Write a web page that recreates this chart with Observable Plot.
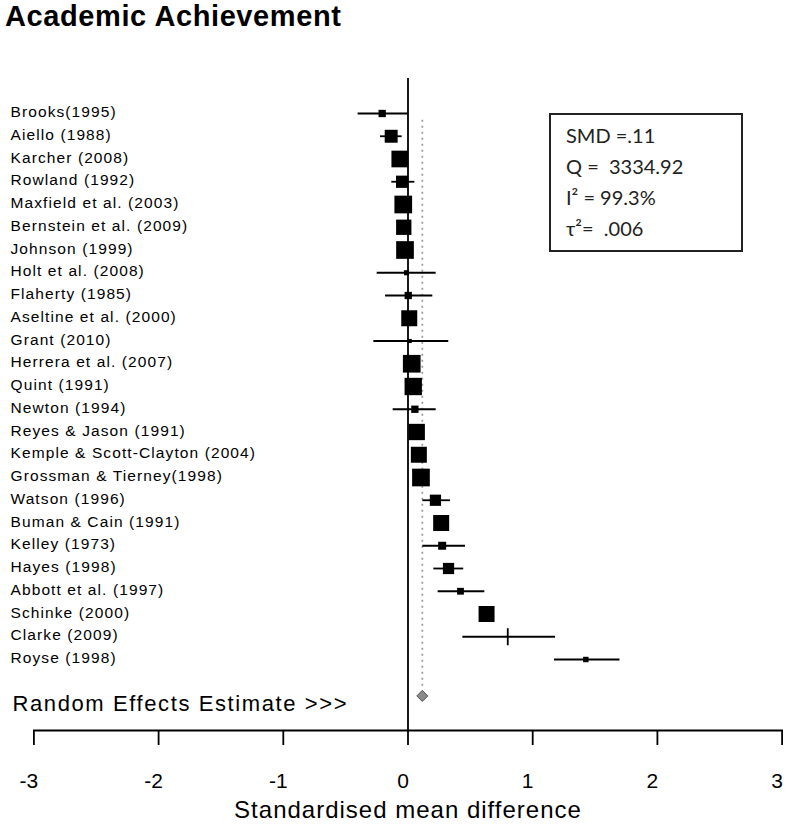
<!DOCTYPE html>
<html>
<head>
<meta charset="utf-8">
<script src="https://cdn.jsdelivr.net/npm/d3@7"></script>
<script src="https://cdn.jsdelivr.net/npm/@observablehq/plot@0.6"></script>
<style>
  html, body { margin: 0; padding: 0; background: #fff; }
  #wrap { position: relative; width: 791px; height: 825px; overflow: hidden; font-family: "Liberation Sans", Arial, sans-serif; }
  #title { position: absolute; left: 5px; top: 2px; font-size: 29px; line-height: 29px; font-weight: bold; color: #000; white-space: nowrap; letter-spacing: 0.6px; }
  #chart { position: absolute; left: 0; top: 34px; }
  #stats { position: absolute; left: 549px; top: 113px; width: 194px; height: 139px; box-sizing: border-box;
           border: 2px solid #222; padding: 5px 0 0 15px; font-family: Lato, "Open Sans", sans-serif; font-size: 20px; line-height: 31px; color: #222; white-space: pre; }
</style>
</head>
<body>
<div id="wrap">
  <div id="title"></div>
  <div id="chart"></div>
  <div id="stats"></div>
</div>
<script>
// ---- data ----
const titleText = "Academic Achievement";
const studies = ["Brooks(1995)", "Aiello (1988)", "Karcher (2008)", "Rowland (1992)", "Maxfield et al. (2003)",
  "Bernstein et al. (2009)", "Johnson (1999)", "Holt et al. (2008)", "Flaherty (1985)", "Aseltine et al. (2000)",
  "Grant (2010)", "Herrera et al. (2007)", "Quint (1991)", "Newton (1994)", "Reyes & Jason (1991)",
  "Kemple & Scott-Clayton (2004)", "Grossman & Tierney(1998)", "Watson (1996)", "Buman & Cain (1991)", "Kelley (1973)",
  "Hayes (1998)", "Abbott et al. (1997)", "Schinke (2000)", "Clarke (2009)", "Royse (1998)"];
const smd   = [-0.207, -0.135, -0.066, -0.047, -0.038, -0.034, -0.024, -0.012, 0.002, 0.010, 0.014, 0.030, 0.042, 0.055, 0.070, 0.087, 0.104, 0.220, 0.266, 0.274, 0.325, 0.421, 0.630, 0.800, 1.426];
const lower = [-0.400, -0.220, -0.100, -0.130, -0.080, -0.070, -0.060, -0.247, -0.180, -0.030, -0.274, -0.010, 0.000, -0.119, 0.030, 0.050, 0.060, 0.119, 0.220, 0.119, 0.207, 0.242, 0.590, 0.440, 1.175];
const upper = [0.000, -0.047, -0.030, 0.055, 0.000, 0.000, 0.010, 0.226, 0.199, 0.050, 0.327, 0.070, 0.080, 0.226, 0.110, 0.120, 0.150, 0.341, 0.310, 0.461, 0.447, 0.616, 0.670, 1.183, 1.700];
const weight = [2.15, 3.8, 4.9, 3.6, 5.2, 4.5, 5.2, 1.5, 2.15, 4.7, 1.2, 5.2, 5.1, 2.15, 4.8, 4.7, 5.2, 3.3, 4.7, 2.35, 3.3, 2.0, 4.7, 0.3, 1.6];
const summarySMD = 0.115;
const summaryLabel = "Random Effects Estimate >>>";
const statsLines = ["SMD =.11", "Q =  3334.92", "I\u00B2 = 99.3%", "\u03C4\u00B2=  .006"];
const xTicks = [-3, -2, -1, 0, 1, 2, 3];
const xTickLabels = ["-3", "-2", "-1", "0", "1", "2", "3"];
const xLabel = "Standardised mean difference";
const crossStudy = "Clarke (2009)";

// ---- build table ----
const rows = studies.map((name, i) => ({name, row: i + 1, smd: smd[i], lo: lower[i], hi: upper[i], w: weight[i]}));
const reRow = studies.length + 1.6;
const ticksData = xTicks.map((v, i) => ({v, label: xTickLabels[i]}));

const vbar = {
  draw(context, size) {
    const h = Math.sqrt(size / Math.PI) * 1.7;
    context.moveTo(0, -h);
    context.lineTo(0, h);
  }
};

const font = '"Liberation Sans", Arial, sans-serif';

const chart = Plot.plot({
  width: 791,
  height: 791,
  marginLeft: 33.4,
  marginRight: 9.4,
  marginTop: 44,
  marginBottom: 95,
  style: {fontFamily: font, background: "#fff", color: "#000", overflow: "visible"},
  x: {domain: [-3, 3], axis: null},
  y: {domain: [1, 25], range: [79, 625], axis: null},
  r: {type: "linear", domain: [0, 5], range: [0, 9.6]},
  marks: [
    Plot.ruleX([0], {stroke: "#000", strokeWidth: 1.8}),
    Plot.ruleX([summarySMD], {y1: 1.3, y2: reRow - 0.4, stroke: "#999", strokeWidth: 1.7, strokeDasharray: "2,4"}),
    Plot.ruleY(rows, {y: "row", x1: "lo", x2: "hi", stroke: "#000", strokeWidth: 1.8}),
    Plot.dot(rows, {x: "smd", y: "row", r: "w", symbol: "square", fill: "#000", stroke: "none"}),
    Plot.dot(rows.filter(d => d.name === crossStudy), {x: "smd", y: "row", r: 5, symbol: vbar, fill: "none", stroke: "#000", strokeWidth: 1.8}),
    Plot.dot([{x: summarySMD, y: reRow}], {x: "x", y: "y", r: 5, symbol: "diamond2", fill: "#8a8a8a", stroke: "#555", strokeWidth: 1}),
    Plot.text(rows, {y: "row", text: "name", frameAnchor: "left", textAnchor: "start", lineAnchor: "bottom", dx: -23.4, dy: 3.5,
      fontSize: 15.5, fill: "#000"}),
    Plot.text([summaryLabel], {y: () => reRow, text: d => d, frameAnchor: "left", textAnchor: "start", lineAnchor: "bottom", dx: -21.4, dy: 15,
      fontSize: 22, fill: "#000"}),
    Plot.frame({anchor: "bottom", stroke: "#000", strokeWidth: 1.8}),
    Plot.axisX({ticks: xTicks, tickSize: 15, tickFormat: () => "", stroke: "#000", strokeWidth: 1.8}),
    Plot.text(ticksData, {x: "v", text: "label", frameAnchor: "bottom", lineAnchor: "bottom", dy: 57, dx: -5, fontSize: 21, fill: "#000"}),
    Plot.text([xLabel], {text: d => d, frameAnchor: "bottom", lineAnchor: "bottom", dy: 87, fontSize: 24, fill: "#000"})
  ]
});

// letter spacing tweaks
const studySet = new Set(studies);
chart.querySelectorAll("text").forEach(t => {
  if (studySet.has(t.textContent)) t.style.letterSpacing = "1.1px";
  if (t.textContent === summaryLabel) t.style.letterSpacing = "1.6px";
  if (t.textContent === xLabel) t.style.letterSpacing = "1px";
});

document.getElementById("chart").appendChild(chart);
document.getElementById("title").textContent = titleText;
document.getElementById("stats").textContent = statsLines.join("\n");
</script>
</body>
</html>
